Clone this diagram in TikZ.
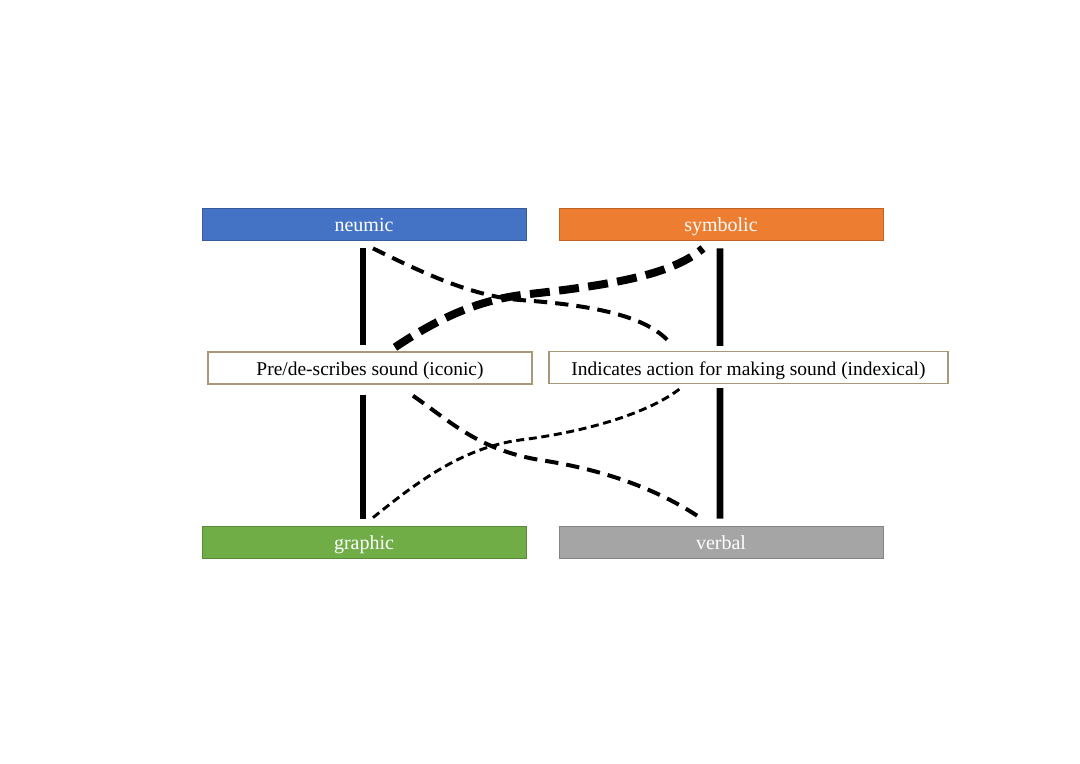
\documentclass[tikz,border=0pt]{standalone}
\usepackage{fontspec}
\setmainfont{Liberation Serif}
\usetikzlibrary{calc}
\definecolor{cblue}{HTML}{4472C4}
\definecolor{corange}{HTML}{ED7D31}
\definecolor{cgreen}{HTML}{70AD47}
\definecolor{cgray}{HTML}{A5A5A5}
\definecolor{ctan}{HTML}{A89878}
\tikzset{
  catbox/.style={draw=#1!80!black, fill=#1, line width=0.6pt, minimum width=243pt, minimum height=24pt, inner sep=0pt, text height=13pt, text depth=2.5pt, text=white, font=\fontsize{15}{17}\selectfont},
  midbox/.style={draw=ctan, fill=white, line width=1.1pt, minimum height=24pt, inner sep=0pt, text height=14pt, text depth=2.5pt, font=\fontsize{14.6}{17}\selectfont},
  solidlink/.style={line width=5.2pt},
  dthin/.style={line width=2.2pt, dash pattern=on 6pt off 3.5pt},
  dmed/.style={line width=3pt, dash pattern=on 10pt off 6pt},
  dthick/.style={line width=6pt, dash pattern=on 15pt off 7pt},
}
\begin{document}
\begin{tikzpicture}[x=0.75pt,y=-0.75pt]
\useasboundingbox (0,0) rectangle (1080,763);
\node[catbox=cblue] (neumic) at (364,224) {neumic};
\node[catbox=corange] (symbolic) at (721,224) {symbolic};
\node[catbox=cgreen] (graphic) at (364,542) {graphic};
\node[catbox=cgray] (verbal) at (721,542) {verbal};
\node[midbox, minimum width=243pt] (pre) at (370,368) {Pre/de-scribes sound (iconic)};
\node[midbox, minimum width=299pt] (ind) at (748.5,367.5) {Indicates action for making sound (indexical)};
% solid links
\draw[solidlink] ([xshift=-0.75pt,yshift=-6pt]neumic.south) -- ([xshift=-5.25pt,yshift=4.5pt]pre.north);
\draw[solidlink] ([xshift=-5.25pt,yshift=-7.5pt]pre.south) -- ([xshift=-0.75pt,yshift=5.25pt]graphic.north);
\draw[solidlink] ([xshift=-0.75pt,yshift=-6pt]symbolic.south) -- ([xshift=-21.4pt,yshift=3.75pt]ind.north);
\draw[solidlink] ([xshift=-21.4pt,yshift=-3pt]ind.south) -- ([xshift=-0.75pt,yshift=5.25pt]verbal.north);
% dashed links
\draw[dmed] ([xshift=6.75pt,yshift=-6pt]neumic.south) .. controls +(45,22) and +(-50,-4) .. (520,300) .. controls +(70,5) and +(-25,-25) .. ([xshift=-61pt,yshift=8.25pt]ind.north);
\draw[dthick] ([xshift=18.75pt,yshift=3pt]pre.north) .. controls +(45,-30) and +(-50,5) .. (530,294) .. controls +(90,-10) and +(-30,25) .. ([xshift=-13.5pt,yshift=-6pt]symbolic.south);
\draw[dmed] ([xshift=32.25pt,yshift=-8.25pt]pre.south) .. controls +(40,28) and +(-60,-10) .. (540,460) .. controls +(80,12) and +(-30,-20) .. ([xshift=-15.75pt,yshift=6pt]verbal.north);
\draw[dthin] ([xshift=6.75pt,yshift=6pt]graphic.north) .. controls +(40,-32) and +(-60,8) .. (520,440) .. controls +(80,-10) and +(-25,20) .. ([xshift=-51pt,yshift=-3pt]ind.south);
\end{tikzpicture}
\end{document}
